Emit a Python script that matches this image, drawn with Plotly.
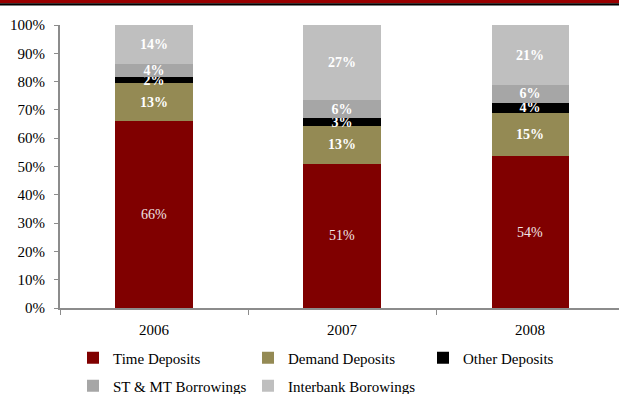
import plotly.graph_objects as go

# Funding mix by year (share of total, %)
years = ["2006", "2007", "2008"]
time_deposits = [66.1, 50.9, 53.7]
demand_deposits = [13.3, 13.4, 15.2]
other_deposits = [2.3, 2.8, 3.6]
st_mt_borrowings = [4.4, 6.3, 6.3]
interbank_borrowings = [13.9, 26.6, 21.2]
y_ticks = [0, 10, 20, 30, 40, 50, 60, 70, 80, 90, 100]

SERIF = "Liberation Serif"
AXIS_GREY = "#8c8c8c"

series = [
    ("Time Deposits", time_deposits, "#800000", "#f2e6e6", False, "legend"),
    ("Demand Deposits", demand_deposits, "#948a54", "#ffffff", True, "legend"),
    ("Other Deposits", other_deposits, "#000000", "#ffffff", True, "legend"),
    ("ST & MT Borrowings", st_mt_borrowings, "#a6a6a6", "#ffffff", True, "legend2"),
    ("Interbank Borowings", interbank_borrowings, "#bfbfbf", "#ffffff", True, "legend2"),
]

fig = go.Figure()
for name, vals, color, txtcol, bold, leg in series:
    fig.add_trace(go.Bar(
        name=name,
        x=years,
        y=vals,
        marker=dict(color=color, line=dict(width=0)),
        width=0.41,
        texttemplate=("<b>%{y:.0f}%</b>" if bold else "%{y:.0f}%"),
        textposition="inside",
        insidetextanchor="middle",
        textangle=0,
        constraintext="none",
        textfont=dict(family=SERIF, size=14, color=txtcol),
        legend=leg,
        hoverinfo="skip",
    ))

legend_common = dict(
    orientation="h",
    font=dict(family=SERIF, size=15, color="#000000"),
    bgcolor="rgba(0,0,0,0)",
    entrywidth=130,
    entrywidthmode="pixels",
    itemclick=False,
    xanchor="left",
    yanchor="middle",
    traceorder="normal",
)

fig.update_layout(
    width=619,
    height=394,
    margin=dict(l=60, r=0, t=25, b=86, autoexpand=False),
    paper_bgcolor="white",
    plot_bgcolor="white",
    barmode="stack",
    showlegend=True,
    legend=dict(x=(73 - 60) / 559, y=-(358 - 308) / 283, **legend_common),
    legend2=dict(x=(73 - 60) / 559, y=-(386 - 308) / 283, **legend_common),
    xaxis=dict(
        type="category",
        range=[-0.5, 2.473],
        showline=True,
        linecolor=AXIS_GREY,
        linewidth=2,
        ticks="outside",
        tickson="boundaries",
        ticklen=5,
        tickcolor=AXIS_GREY,
        tickwidth=1,
        showgrid=False,
        tickfont=dict(family=SERIF, size=15, color="#000000"),
        ticklabelstandoff=7,
    ),
    yaxis=dict(
        range=[0, 100],
        tickvals=y_ticks,
        ticktext=[f"{v}%" for v in y_ticks],
        showline=True,
        linecolor=AXIS_GREY,
        linewidth=2,
        ticks="outside",
        ticklen=4,
        tickcolor=AXIS_GREY,
        tickwidth=1,
        showgrid=False,
        zeroline=False,
        ticklabelstandoff=6,
        tickfont=dict(family=SERIF, size=15, color="#000000"),
    ),
    shapes=[
        # dark red header band and black rule along the top edge
        dict(type="rect", xref="paper", yref="paper",
             x0=-0.2, x1=1.2, y0=1 + (25 - 3.3) / 283, y1=1 + 26 / 283,
             fillcolor="#990000", line=dict(width=0), layer="above"),
        dict(type="rect", xref="paper", yref="paper",
             x0=-0.2, x1=1.2, y0=1 + (25 - 5.4) / 283, y1=1 + (25 - 3.3) / 283,
             fillcolor="#000000", line=dict(width=0), layer="above"),
    ],
)

fig.write_html("out.html")
